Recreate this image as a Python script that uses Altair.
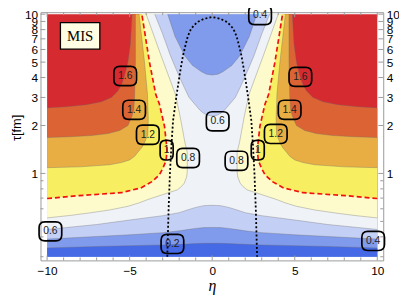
import altair as alt
import pandas as pd

# ---------------- values ----------------
# U-shaped contours: half-width |eta| where the field crosses a level, vs tau [fm]
tau_c16 = [2.58, 2.62, 2.70, 2.82, 3.00, 3.30, 3.70, 4.10, 5.00, 6.50, 10.0]
eta_c16 = [10.0, 8.8, 7.6, 6.7, 6.1, 5.7, 5.45, 5.3, 5.1, 4.95, 4.85]
tau_c14 = [1.68, 1.70, 1.73, 1.78, 1.86, 2.00, 2.30, 2.51, 3.00, 5.00, 10.0]
eta_c14 = [10.0, 8.6, 7.3, 6.3, 5.6, 5.1, 4.85, 4.75, 4.70, 4.65, 4.65]
tau_c12 = [1.087, 1.10, 1.134, 1.17, 1.216, 1.28, 1.36, 1.46, 1.56, 1.75, 2.20, 3.14, 5.00, 10.0]
eta_c12 = [10.0, 8.0, 6.2, 5.5, 5.0, 4.7, 4.5, 4.25, 4.1, 3.9, 3.87, 3.92, 4.1, 4.43]
tau_c10 = [0.696, 0.726, 0.757, 0.811, 0.894, 0.92, 0.98, 1.072, 1.20, 1.36, 1.50, 1.98, 2.73, 3.14, 5.00, 10.0]
eta_c10 = [10.0, 8.07, 5.51, 4.32, 3.6, 3.48, 3.2, 3.0, 2.8, 2.74, 2.76, 2.89, 3.20, 3.42, 3.8, 4.26]
tau_c08 = [0.526, 0.545, 0.564, 0.59, 0.622, 0.655, 0.686, 0.736, 0.789, 0.83, 0.87, 0.95, 1.03, 1.36, 1.56, 2.30, 3.14, 5.50, 10.0]
eta_c08 = [10.0, 8.6, 7.5, 6.2, 5.1, 4.4, 3.9, 3.0, 2.11, 1.85, 1.69, 1.55, 1.51, 1.51, 1.65, 1.95, 2.23, 3.1, 4.0]
# central lobes at large tau
tau_c06_top = [2.30, 2.32, 2.40, 2.50, 2.62, 3.00, 3.46, 4.30, 5.49, 7.50, 10.0]
eta_c06_top = [0.0, 0.3, 0.55, 0.75, 0.92, 1.4, 1.69, 2.1, 2.53, 3.0, 3.48]
tau_c04_top = [4.15, 4.20, 4.35, 4.77, 5.49, 7.25, 10.0]
eta_c04_top = [0.0, 0.35, 0.65, 1.2, 1.67, 2.25, 2.7]
# bottom bands: tau where the field crosses a level, vs |eta|
eta_bottom = [0, 0.5, 1, 1.5, 2, 3, 5, 7, 10]
tau_b06 = [0.631, 0.628, 0.612, 0.590, 0.567, 0.543, 0.510, 0.478, 0.445]
tau_b04 = [0.458, 0.457, 0.452, 0.444, 0.436, 0.425, 0.412, 0.402, 0.387]
tau_b02 = [0.364, 0.364, 0.363, 0.361, 0.359, 0.356, 0.352, 0.348, 0.341]
# dotted curve (symmetric)
tau_dot = [0.3, 0.6, 1.0, 1.5, 2.15, 3.14, 4.3, 5.5, 6.5, 7.25, 8.1, 8.9, 9.35, 9.6]
eta_dot = [2.72, 2.64, 2.56, 2.47, 2.37, 2.15, 1.95, 1.77, 1.6, 1.48, 1.28, 0.92, 0.5, 0.0]
# contour labels
lab_text = ["1.6", "1.6", "1.4", "1.4", "1.2", "1.2", "1", "1", "0.8", "0.8", "0.6", "0.6", "0.4", "0.4", "0.2"]
lab_eta = [-5.27, 5.34, -4.73, 4.69, -3.9, 3.85, -2.76, 2.76, -1.46, 1.47, 0.33, -9.8, 2.9, 9.75, -2.41]
lab_tau = [4.09, 4.04, 2.51, 2.51, 1.75, 1.77, 1.40, 1.40, 1.25, 1.20, 2.125, 0.433, 9.86, 0.377, 0.361]
# tag
tag_text = ["MIS"]
tag_eta = [-8.0]
tag_tau = [7.3]
# axes
x_major = [-10, -5, 0, 5, 10]
x_minor = [v for v in range(-9, 10) if v % 5 != 0]
y_major = [1, 2, 3, 4, 5, 6, 7, 8, 9, 10]
y_minor = [0.3, 0.4, 0.5, 0.6, 0.7, 0.8, 0.9]

# ---------------- style ----------------
C_RED, C_ORANGE, C_DYELLOW, C_YELLOW = "#d62a31", "#dc6434", "#e8ae43", "#f8ee62"
C_LYELLOW, C_WHITE, C_LBLUE, C_MBLUE, C_BLUE = "#fdfacb", "#eff2f7", "#c4cff5", "#809aec", "#4669e6"
W, H = 348, 252
xscale = alt.Scale(domain=[-10.4, 10.36], nice=False, zero=False)
yscale = alt.Scale(type="log", domain=[0.2846, 10.289], nice=False)
FONT = "Liberation Sans"


def X(f, **kw):
    return alt.X(f, scale=xscale, **({"axis": None} | kw))


def Y(f, **kw):
    return alt.Y(f, scale=yscale, **({"axis": None} | kw))


def side_df(taus, etas, full=True):
    t = ([0.3] if full else []) + taus
    e = ([10.0] if full else []) + etas
    return pd.DataFrame({"tau": t, "lo": [-v for v in e], "hi": e})


def harea(df, color, xaxis=None):
    return alt.Chart(df).mark_area(orient="horizontal", color=color).encode(
        y=Y("tau:Q"), x=X("lo:Q", axis=xaxis), x2="hi:Q")


AX = dict(format="d", labelFont=FONT, labelFontSize=12, labelColor="black", ticks=False,
          domain=False, grid=False, labelFlush=False)

layers = []
# background (region above the highest level), carrying the x axis
bg = pd.DataFrame({"tau": [0.3, 10.0], "lo": [-10.0, -10.0], "hi": [10.0, 10.0]})
layers.append(harea(bg, C_RED, alt.Axis(orient="bottom", values=x_major, labelPadding=5,
                                         title="η", titleFont="Liberation Serif",
                                         titleFontStyle="italic", titleFontSize=16,
                                         titleFontWeight="normal", titleColor="black",
                                         titlePadding=2, **AX)))

sides = [(tau_c16, eta_c16, C_ORANGE), (tau_c14, eta_c14, C_DYELLOW), (tau_c12, eta_c12, C_YELLOW),
         (tau_c10, eta_c10, C_LYELLOW), (tau_c08, eta_c08, C_WHITE)]
for t, e, c in sides:
    layers.append(harea(side_df(t, e), c))
layers.append(harea(side_df(tau_c06_top, eta_c06_top, full=False), C_LBLUE))
layers.append(harea(side_df(tau_c04_top, eta_c04_top, full=False), C_MBLUE))

eta_full = [-v for v in reversed(eta_bottom[1:])] + eta_bottom
for tb, c in [(tau_b06, C_LBLUE), (tau_b04, C_MBLUE), (tau_b02, C_BLUE)]:
    tf = list(reversed(tb[1:])) + tb
    df = pd.DataFrame({"eta": eta_full, "tau": tf, "base": [0.3] * len(tf)})
    layers.append(alt.Chart(df).mark_area(color=c).encode(
        x=X("eta:Q"), y=Y("tau:Q"), y2="base:Q"))

# contour lines
rows = []
for name, (t, e) in {"16": (tau_c16, eta_c16), "14": (tau_c14, eta_c14), "12": (tau_c12, eta_c12),
                     "10": (tau_c10, eta_c10), "08": (tau_c08, eta_c08)}.items():
    for s in (-1, 1):
        for i, (tt, ee) in enumerate(zip(t, e)):
            rows.append({"key": name + str(s), "lvl": name, "i": i, "x": s * ee, "y": tt})
for name, (t, e) in {"06t": (tau_c06_top, eta_c06_top), "04t": (tau_c04_top, eta_c04_top)}.items():
    xs = [-v for v in reversed(e)] + e[1:]
    ys = list(reversed(t)) + t[1:]
    for i, (xx, yy) in enumerate(zip(xs, ys)):
        rows.append({"key": name, "lvl": name, "i": i, "x": xx, "y": yy})
for name, tb in {"06b": tau_b06, "04b": tau_b04, "02b": tau_b02}.items():
    tf = list(reversed(tb[1:])) + tb
    for i, (xx, yy) in enumerate(zip(eta_full, tf)):
        rows.append({"key": name, "lvl": name, "i": i, "x": xx, "y": yy})
lines = pd.DataFrame(rows)
layers.append(alt.Chart(lines[lines.lvl != "10"]).mark_line(
    color="#6a6a6a", strokeWidth=0.7, opacity=0.5).encode(
    x=X("x:Q"), y=Y("y:Q"), detail="key:N", order=alt.Order("i:Q")))
layers.append(alt.Chart(lines[lines.lvl == "10"]).mark_line(
    color="#f01010", strokeWidth=1.7, strokeDash=[5, 3]).encode(
    x=X("x:Q"), y=Y("y:Q"), detail="key:N", order=alt.Order("i:Q")))

# dotted curve
dx = [-v for v in eta_dot] + list(reversed(eta_dot[:-1]))
dy = tau_dot + list(reversed(tau_dot[:-1]))
dot = pd.DataFrame({"x": dx, "y": dy, "i": range(len(dx))})
layers.append(alt.Chart(dot).mark_line(color="black", strokeWidth=1.8, strokeDash=[2, 2.2]).encode(
    x=X("x:Q"), y=Y("y:Q"), order=alt.Order("i:Q")))

# frame ticks (inward)
TICK = "#9a9a9a"
for vals, ln in [(x_major, 5), (x_minor, 3)]:
    d = pd.DataFrame({"v": vals})
    layers.append(alt.Chart(d).mark_rule(color=TICK).encode(
        x=X("v:Q"), y=alt.value(H), y2=alt.value(H - ln)))
    layers.append(alt.Chart(d).mark_rule(color=TICK).encode(
        x=X("v:Q"), y=alt.value(0), y2=alt.value(ln)))
for vals, ln in [(y_major, 5), (y_minor, 3)]:
    d = pd.DataFrame({"v": vals})
    layers.append(alt.Chart(d).mark_rule(color=TICK).encode(
        y=Y("v:Q"), x=alt.value(0), x2=alt.value(ln)))
    layers.append(alt.Chart(d).mark_rule(color=TICK).encode(
        y=Y("v:Q"), x=alt.value(W), x2=alt.value(W - ln)))

# y axes (labels only) on invisible layers
layers.append(alt.Chart(pd.DataFrame({"v": y_major})).mark_rule(opacity=0).encode(
    y=Y("v:Q", axis=alt.Axis(orient="left", values=y_major, labelPadding=3, labelOverlap=False,
                             title="τ[fm]", titleFont=FONT,
                             titleFontSize=13, titleFontWeight="normal", titleColor="black",
                             titleX=-24, titleY=117, titleAlign="center", titleBaseline="middle",
                             **AX)),
    x=alt.value(0)))
layers.append(alt.Chart(pd.DataFrame({"v": y_major})).mark_rule(opacity=0).encode(
    y=Y("v:Q", axis=alt.Axis(orient="right", values=y_major, labelPadding=3, labelOverlap=False,
                             title=None, **AX)),
    x=alt.value(W)))


def rbox(w, h, r):
    return (f"M{-w + r},{-h}L{w - r},{-h}Q{w},{-h},{w},{-h + r}L{w},{h - r}Q{w},{h},{w - r},{h}"
            f"L{-w + r},{h}Q{-w},{h},{-w},{h - r}L{-w},{-h + r}Q{-w},{-h},{-w + r},{-h}Z")


labels = pd.DataFrame({"t": lab_text, "x": lab_eta, "y": lab_tau,
                       "kind": ["narrow" if len(s) == 1 else "wide" for s in lab_text]})
layers.append(alt.Chart(labels).mark_point(filled=False, color="black", strokeWidth=1.7,
                                           size=400, opacity=1).encode(
    x=X("x:Q"), y=Y("y:Q"),
    shape=alt.Shape("kind:N", scale=alt.Scale(domain=["wide", "narrow"],
                                              range=[rbox(1.15, 0.97, 0.6), rbox(0.66, 1.0, 0.55)]),
                    legend=None)))
layers.append(alt.Chart(labels).mark_text(font=FONT, fontSize=10.5, color="#222").encode(
    x=X("x:Q"), y=Y("y:Q"), text="t:N"))

tag = pd.DataFrame({"t": tag_text, "x": tag_eta, "y": tag_tau})
layers.append(alt.Chart(tag).mark_point(shape="M-2,-1.35L2,-1.35L2,1.35L-2,1.35Z", size=400,
                                        filled=True, fill="#fffde3", stroke="black",
                                        strokeWidth=1.3, opacity=1).encode(
    x=X("x:Q"), y=Y("y:Q")))
layers.append(alt.Chart(tag).mark_text(font="Liberation Serif", fontSize=15, color="black").encode(
    x=X("x:Q"), y=Y("y:Q"), text="t:N"))

chart = alt.layer(*layers).resolve_axis(x="independent", y="independent").properties(
    width=W, height=H,
    padding={"left": 33, "top": 2, "right": 16, "bottom": 40},
    autosize=alt.AutoSizeParams(type="none"),
).configure_view(stroke="#9a9a9a", strokeWidth=1)

chart.save("out.html", embed_options={"renderer": "svg", "actions": False})
